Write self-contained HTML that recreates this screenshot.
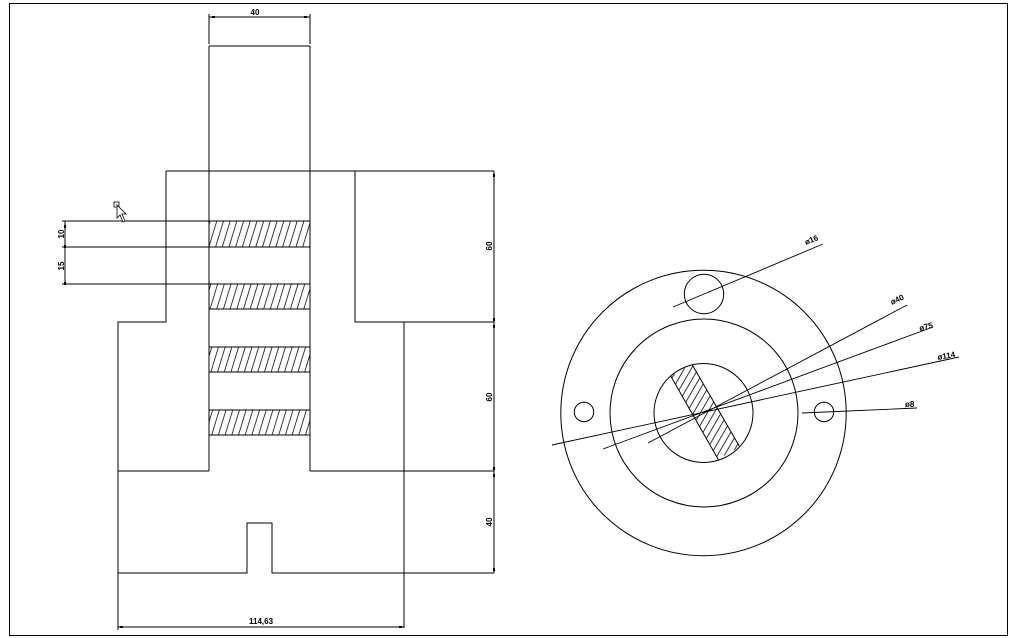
<!DOCTYPE html>
<html><head><meta charset="utf-8"><style>
html,body{margin:0;padding:0;background:#fff;}
svg{display:block;}
text{font-family:"Liberation Sans",sans-serif;font-weight:bold;font-size:8px;fill:#000;}
</style></head><body>
<svg width="1031" height="638" viewBox="0 0 1031 638" xmlns="http://www.w3.org/2000/svg">
<defs>
<pattern id="h" width="6.7" height="26" patternUnits="userSpaceOnUse" patternTransform="skewX(-17)">
<line x1="3" y1="0" x2="3" y2="26" stroke="#000" stroke-width="0.8"/>
</pattern>
<pattern id="h2" width="6" height="6" patternUnits="userSpaceOnUse" patternTransform="rotate(30)">
<line x1="3" y1="-1" x2="3" y2="7" stroke="#000" stroke-width="0.8"/>
</pattern>
<clipPath id="cc"><circle cx="703.5" cy="413" r="49.5"/></clipPath>
</defs>
<rect x="9.5" y="3.5" width="998" height="632" fill="none" stroke="#000" stroke-width="1"/>
<g stroke="#000" stroke-width="1" fill="none">
<!-- hatches -->
<rect x="209" y="221" width="101" height="26" fill="url(#h)"/>
<rect x="209" y="284" width="101" height="25" fill="url(#h)"/>
<rect x="209" y="347" width="101" height="25" fill="url(#h)"/>
<rect x="209" y="410" width="101" height="25" fill="url(#h)"/>
<path d="M209 46V471M310 46V471M209 46H310"/>
<path d="M166 171H494M166 171V322H118V573H247V523H272V573H494"/>
<path d="M355 171V322H494M404 322V628M118 471H209M310 471H494M118 573V630"/>
<path d="M62 221H209M62 247H209M62 284H209"/>
<path d="M209 44V14M310 44V14M209 17H310"/>
<path d="M65 221V284M494 171V573M118 627H404"/>
<!-- cursor -->
<rect x="114" y="202" width="5" height="5" stroke-width="0.8"/>
<path d="M117 205 L117 218 L120 215 L123 222 L125 221 L122 214 L126 214 Z" fill="#fff" stroke-width="0.8"/>
<!-- circles -->
<circle cx="703.5" cy="413" r="142.7"/>
<circle cx="704" cy="413" r="94"/>
<circle cx="703.5" cy="413" r="49.5"/>
<circle cx="704" cy="294" r="19.7"/>
<circle cx="584" cy="412" r="9.7"/>
<circle cx="824" cy="412" r="9.7"/>
<g clip-path="url(#cc)">
<polygon points="671,376 692,364 740,447 718,459" fill="url(#h2)" stroke="none"/>
<path d="M665 366L722 466M686 354L745 456"/>
</g>
<!-- leaders -->
<path d="M673 307L823 244M648 443L907 305M603 449L933 327M552 445L959 357M802 413L917 408" stroke-width="0.9"/>
</g>
<g fill="#000">
<rect x="212" y="16" width="3" height="2"/><rect x="304" y="16" width="3" height="2"/>
<rect x="64" y="225" width="2" height="3"/><rect x="64" y="245" width="2" height="3"/><rect x="64" y="282" width="2" height="3"/>
<rect x="493" y="174" width="2" height="3"/><rect x="493" y="318" width="2" height="3"/><rect x="493" y="325" width="2" height="3"/><rect x="493" y="467" width="2" height="3"/><rect x="493" y="474" width="2" height="3"/><rect x="493" y="568" width="2" height="3"/>
<rect x="120" y="626" width="3" height="2"/><rect x="399" y="626" width="3" height="2"/>
</g>
<text x="255" y="15" text-anchor="middle">40</text>
<text transform="translate(64,234) rotate(-90)" text-anchor="middle">10</text>
<text transform="translate(64,266) rotate(-90)" text-anchor="middle">15</text>
<text transform="translate(492,246) rotate(-90)" text-anchor="middle">60</text>
<text transform="translate(492,397) rotate(-90)" text-anchor="middle">60</text>
<text transform="translate(492,522) rotate(-90)" text-anchor="middle">40</text>
<text x="261" y="624" text-anchor="middle">114,63</text>
<text transform="translate(806,245) rotate(-22)">ø16</text>
<text transform="translate(892,305) rotate(-25)">ø40</text>
<text transform="translate(920,331) rotate(-15)">ø75</text>
<text transform="translate(938,360) rotate(-10)">ø114</text>
<text x="905" y="407">ø8</text>
</svg>
</body></html>
